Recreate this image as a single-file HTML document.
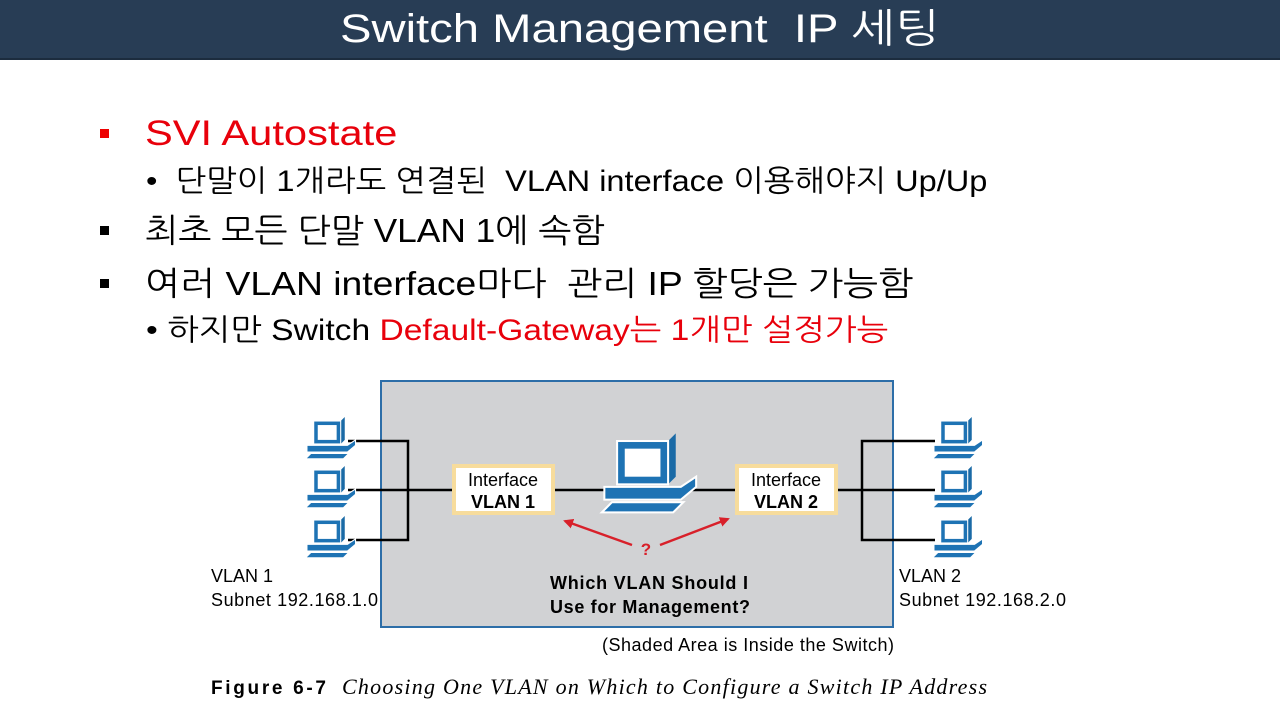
<!DOCTYPE html>
<html><head><meta charset="utf-8"><style>
body{margin:0;width:1280px;height:720px;background:#fff;overflow:hidden;position:relative;font-family:"Liberation Sans","NanumGothic","Noto Sans CJK KR",sans-serif}
.t{position:absolute;white-space:nowrap;transform-origin:0 0}
#bar{position:absolute;left:0;top:0;width:1280px;height:58px;background:#283d55;border-bottom:2px solid #1c2c3e}
</style></head><body>
<div id="bar"></div>
<div class="t" style="left:340px;top:4px;color:#fff;font-size:40px;line-height:50px;transform:scaleX(1.18)">Switch Management&nbsp; IP 세팅</div>

<div style="position:absolute;left:100px;top:129px;width:9px;height:9px;background:#e00"></div>
<div class="t" style="left:145px;top:114px;font-size:35px;color:#e8000b;transform:scaleX(1.19)">SVI Autostate</div>
<div class="t" style="left:146px;top:162px;font-size:30px;color:#000;transform:scaleX(1.085)">•&nbsp; 단말이 1개라도 연결된&nbsp; VLAN interface 이용해야지 Up/Up</div>
<div style="position:absolute;left:100px;top:226px;width:9px;height:9px;background:#000"></div>
<div class="t" style="left:145px;top:210px;font-size:33px;color:#000;transform:scaleX(1.07)">최초 모든 단말 VLAN 1에 속함</div>
<div style="position:absolute;left:100px;top:279px;width:9px;height:9px;background:#000"></div>
<div class="t" style="left:145px;top:263px;font-size:33px;color:#000;transform:scaleX(1.13)">여러 VLAN interface마다&nbsp; 관리 IP 할당은 가능함</div>
<div class="t" style="left:146px;top:311px;font-size:30px;color:#000;transform:scaleX(1.12)">• 하지만 Switch <span style="color:#e8000b">Default-Gateway는 1개만 설정가능</span></div>

<svg style="position:absolute;left:0;top:0" width="1280" height="720">
<defs>
<g id="pc">
<path d="M4 0 h18 l3 -3 v17 l-3 3 z" fill="#1a6aa6"/>
<rect x="2" y="0" width="20" height="17" fill="#1e73b4" stroke="#fff" stroke-width="0.8"/>
<rect x="5" y="3" width="14" height="11" fill="#fff"/>
<path d="M-3 18 h30 l6 -4 v4 l-6 5 h-30 z" fill="#1e73b4" stroke="#fff" stroke-width="0.8"/>
<path d="M0 24 h28 l-4 4 h-28 z" fill="#1e73b4" stroke="#fff" stroke-width="0.8"/>
</g>
<marker id="ar" markerWidth="10" markerHeight="10" refX="8" refY="5" orient="auto" markerUnits="userSpaceOnUse"><path d="M0 0 L10 5 L0 10 z" fill="#d8202a"/></marker>
</defs>
<rect x="381" y="381" width="512" height="246" fill="#d1d2d4" stroke="#2d6ea8" stroke-width="2"/>
<g stroke="#000" stroke-width="2.5" fill="none">
<path d="M348 441 H408 V540 H348"/><path d="M348 490 H452"/>
<path d="M555 490 H735"/><path d="M838 490 H935"/>
<path d="M935 441 H862 V540 H935"/>
</g>
<g transform="translate(311,421) scale(1.35)"><use href="#pc"/></g>
<g transform="translate(311,470) scale(1.35)"><use href="#pc"/></g>
<g transform="translate(311,520) scale(1.35)"><use href="#pc"/></g>
<g transform="translate(938,421) scale(1.35)"><use href="#pc"/></g>
<g transform="translate(938,470) scale(1.35)"><use href="#pc"/></g>
<g transform="translate(938,520) scale(1.35)"><use href="#pc"/></g>
<g transform="translate(612,441) scale(2.55)"><use href="#pc"/></g>
<rect x="454" y="466" width="99" height="47" fill="#fff" stroke="#f7dc9c" stroke-width="4"/>
<rect x="737" y="466" width="99" height="47" fill="#fff" stroke="#f7dc9c" stroke-width="4"/>
<g font-family="Liberation Sans" font-size="18">
<text x="503" y="486" text-anchor="middle">Interface</text>
<text x="503" y="508" font-weight="bold" text-anchor="middle">VLAN 1</text>
<text x="786" y="486" text-anchor="middle">Interface</text>
<text x="786" y="508" font-weight="bold" text-anchor="middle">VLAN 2</text>
<text x="550" y="589" font-weight="bold" textLength="198">Which VLAN Should I</text>
<text x="550" y="613" font-weight="bold" textLength="200">Use for Management?</text>
<text x="211" y="582">VLAN 1</text>
<text x="211" y="606" textLength="167">Subnet 192.168.1.0</text>
<text x="899" y="582">VLAN 2</text>
<text x="899" y="606" textLength="167">Subnet 192.168.2.0</text>
<text x="602" y="651" textLength="292">(Shaded Area is Inside the Switch)</text>
<text x="211" y="694" font-size="19" font-weight="bold" textLength="115">Figure 6-7</text>
</g>
<g stroke="#d8202a" stroke-width="2.5"><line x1="632" y1="545" x2="565" y2="521" marker-end="url(#ar)"/><line x1="660" y1="545" x2="728" y2="519" marker-end="url(#ar)"/></g>
<text x="646" y="555" font-size="17" font-weight="bold" fill="#d8202a" text-anchor="middle" font-family="Liberation Sans">?</text>
<text x="342" y="694" font-size="22" font-style="italic" font-family="Liberation Serif" textLength="645">Choosing One VLAN on Which to Configure a Switch IP Address</text>
</svg>
</body></html>
